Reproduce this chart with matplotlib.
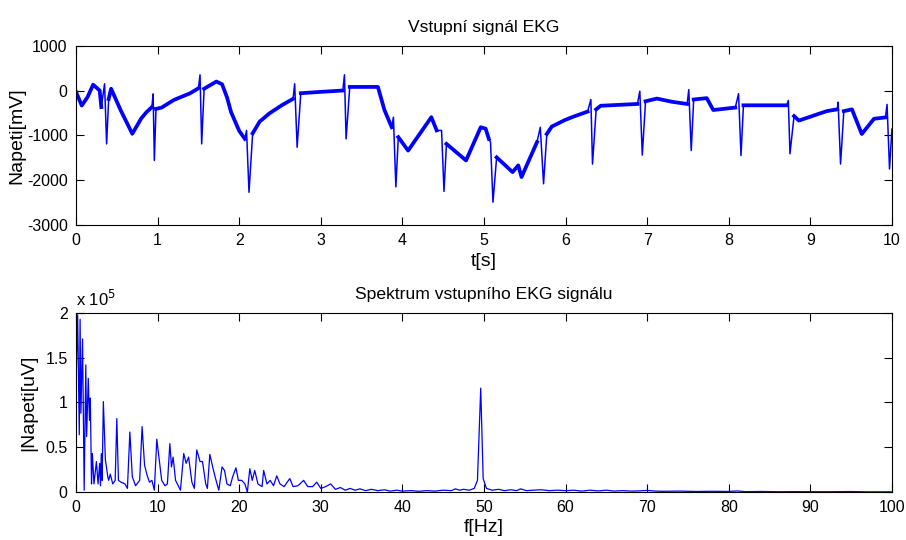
import numpy as np
import matplotlib.pyplot as plt
from matplotlib.ticker import FuncFormatter

plt.rcParams['font.family'] = ['Liberation Sans', 'DejaVu Sans']
plt.rcParams['axes.unicode_minus'] = False

# EKG trace, vertices (t in s, voltage in mV)
ekg_t = [0.00, 0.07, 0.14, 0.21, 0.29, 0.31, 0.35, 0.375, 0.40, 0.43, 0.55, 0.69, 0.80, 0.865, 0.93,
         0.945, 0.96, 0.98, 1.05, 1.20, 1.40, 1.50, 1.52, 1.54, 1.57, 1.72, 1.79, 1.85, 1.90, 2.00,
         2.07, 2.09, 2.12, 2.165, 2.25, 2.37, 2.53, 2.66, 2.68, 2.71, 2.755, 3.00, 3.27, 3.29, 3.31,
         3.355, 3.70, 3.78, 3.87, 3.89, 3.92, 3.95, 4.07, 4.355, 4.42, 4.48, 4.51, 4.54, 4.78, 4.96,
         5.02, 5.06, 5.08, 5.11, 5.155, 5.35, 5.42, 5.46, 5.65, 5.69, 5.73, 5.77, 5.83, 5.99, 6.10,
         6.27, 6.31, 6.33, 6.375, 6.43, 6.88, 6.91, 6.94, 6.98, 7.12, 7.30, 7.49, 7.51, 7.54, 7.57,
         7.73, 7.81, 7.98, 8.08, 8.12, 8.15, 8.18, 8.71, 8.73, 8.75, 8.80, 8.86, 9.20, 9.33, 9.34,
         9.37, 9.41, 9.51, 9.63, 9.78, 9.92, 9.94, 9.97, 10.0]
ekg_mv = [-30, -335, -150, 130, 0, -370, 150, -1190, -190, 40, -450, -965, -620, -480, -370,
          -75, -1560, -410, -380, -210, -60, 50, 350, -1190, 40, 200, 140, -150, -480, -900,
          -1080, -890, -2270, -955, -695, -510, -320, -185, 150, -1265, -60, -30, 0, 350, -1080,
          80, 80, -435, -820, -595, -2150, -1040, -1340, -595, -890, -890, -2250, -1190, -1560, -820,
          -850, -1080, -1150, -2490, -1490, -1820, -1670, -1930, -1150, -820, -2080, -970, -805, -660, -580,
          -470, -200, -1640, -420, -340, -300, -15, -1440, -240, -180, -250, -300, 20, -1340, -200,
          -170, -435, -400, -380, -70, -1450, -330, -330, -220, -1410, -570, -670, -460, -420, -260,
          -1640, -460, -420, -970, -630, -600, -310, -1750, -860]
# times of the downward QRS deflections
qrs_t = [0.375, 0.96, 1.54, 2.12, 2.71, 3.31, 3.92, 4.51, 5.11, 5.73, 6.33, 6.94, 7.54, 8.15,
         8.75, 9.37, 9.97]

# spectrum, vertices (f in Hz, amplitude in x 10^5 uV)
spec_f = [0.0, 0.2, 0.4, 0.5, 0.6, 0.8, 0.9, 1.0, 1.2, 1.3, 1.5, 1.65, 1.75, 1.9, 2.0, 2.2, 2.5, 2.7,
          2.9, 3.0, 3.1, 3.2, 3.35, 3.6, 3.9, 4.0, 4.2, 4.5, 4.8, 5.0, 5.2, 5.5, 6.0, 6.3, 6.6, 6.9,
          7.3, 7.8, 8.1, 8.4, 8.7, 9.0, 9.3, 9.6, 9.9, 10.2, 10.5, 10.9, 11.2, 11.5, 11.7, 11.9, 12.2,
          12.8, 13.2, 13.5, 13.8, 14.2, 14.5, 14.8, 15.2, 15.5, 15.9, 16.1, 16.4, 16.8, 17.1, 17.5,
          17.9, 18.2, 18.5, 18.9, 19.2, 19.6, 19.9, 20.3, 20.7, 21.0, 21.3, 21.6, 21.9, 22.3, 22.8,
          23.0, 23.4, 23.8, 24.2, 24.6, 25.0, 25.5, 26.2, 26.6, 27.2, 27.9, 28.4, 29.0, 29.5, 30.0,
          30.6, 31.2, 31.8, 32.4, 33.0, 33.6, 34.2, 34.8, 35.5, 36.2, 37.0, 37.8, 38.5, 39.3, 40.0,
          41.0, 42.0, 43.0, 44.0, 45.0, 46.0, 46.5, 47.0, 47.5, 48.2, 48.8, 49.2, 49.6, 49.9, 50.3,
          51.0, 51.8, 52.5, 53.3, 54.0, 54.5, 55.2, 56.0, 57.0, 58.0, 59.0, 60.0, 61.0, 62.0, 63.0,
          64.0, 65.0, 66.0, 67.0, 68.0, 69.0, 70.0, 71.0, 72.0, 74.0, 76.0, 78.0, 80.0, 81.0, 82.0,
          84.0, 86.0, 88.0, 90.0, 92.0, 95.0, 97.0, 100.0]
spec_amp = [1.20, 1.98, 0.64, 1.93, 0.88, 1.71, 0.88, 0.02, 1.42, 0.62, 1.27, 0.80, 1.05, 0.09, 0.43, 0.09, 0.34, 0.09,
            0.32, 0.07, 0.43, 0.13, 1.01, 0.36, 0.17, 0.13, 0.20, 0.09, 0.13, 0.82, 0.13, 0.11, 0.09, 0.04, 0.67, 0.17,
            0.07, 0.13, 0.73, 0.30, 0.19, 0.11, 0.13, 0.02, 0.59, 0.36, 0.13, 0.07, 0.09, 0.54, 0.28, 0.39, 0.13,
            0.02, 0.43, 0.32, 0.39, 0.11, 0.04, 0.47, 0.34, 0.34, 0.09, 0.04, 0.42, 0.26, 0.15, 0.02,
            0.28, 0.24, 0.09, 0.07, 0.17, 0.27, 0.13, 0.13, 0.09, 0.00, 0.26, 0.13, 0.24, 0.09, 0.06,
            0.24, 0.09, 0.13, 0.07, 0.18, 0.09, 0.06, 0.15, 0.06, 0.07, 0.13, 0.06, 0.06, 0.11, 0.04,
            0.06, 0.09, 0.03, 0.05, 0.02, 0.04, 0.02, 0.035, 0.015, 0.03, 0.015, 0.025, 0.01, 0.02, 0.01,
            0.015, 0.008, 0.015, 0.01, 0.02, 0.015, 0.035, 0.02, 0.03, 0.02, 0.04, 0.13, 1.16, 0.15, 0.04,
            0.02, 0.03, 0.015, 0.025, 0.015, 0.035, 0.015, 0.02, 0.025, 0.015, 0.02, 0.015, 0.02, 0.01, 0.02,
            0.012, 0.02, 0.01, 0.015, 0.01, 0.012, 0.018, 0.01, 0.008, 0.01, 0.006, 0.008, 0.006, 0.012, 0.004,
            0.006, 0.003, 0.004, 0.003, 0.003, 0.005, 0.002, 0.002]

fig = plt.figure(figsize=(9.06, 5.40), dpi=100)
ax1 = fig.add_axes([0.0839, 0.5833, 0.9006, 0.3321])
ax2 = fig.add_axes([0.0839, 0.0889, 0.9006, 0.3315])

# thin trace for the QRS spikes, thick noisy-looking band for the rest
ekg_base = np.array(ekg_mv, dtype=float)
for q in qrs_t:
    i = ekg_t.index(q)
    ekg_base[i - 1:i + 1] = np.nan
ax1.plot(ekg_t, ekg_mv, color='#0000ff', lw=1.1)
ax1.plot(ekg_t, ekg_base, color='#0000ff', lw=2.7, solid_joinstyle='round')
ax1.set_xlim(0, 10)
ax1.set_ylim(-3000, 1000)
ax1.set_xticks(np.arange(0, 11, 1))
ax1.set_yticks(np.arange(-3000, 1001, 1000))
ax1.set_title('Vstupní signál EKG', fontsize=12.6, pad=10)
ax1.set_xlabel('t[s]', fontsize=14, labelpad=3)
ax1.set_ylabel('Napeti[mV]', fontsize=14, labelpad=1)

ax2.plot(spec_f, np.array(spec_amp) * 1e5, color='#0000ff', lw=0.9)
ax2.set_xlim(0, 100)
ax2.set_ylim(0, 2e5)
ax2.set_xticks(np.arange(0, 101, 10))
ax2.set_yticks(np.arange(0, 2.01e5, 0.5e5))
ax2.yaxis.set_major_formatter(FuncFormatter(lambda v, p: f'{v / 1e5:g}'))
ax2.text(0.0, 1.025, 'x 10$^5$', transform=ax2.transAxes, fontsize=12, va='bottom')
ax2.set_title('Spektrum vstupního EKG signálu', fontsize=12.6, pad=10)
ax2.set_xlabel('f[Hz]', fontsize=14, labelpad=3)
ax2.set_ylabel('|Napeti[uV]', fontsize=14, labelpad=6)

for ax in (ax1, ax2):
    ax.tick_params(direction='in', top=True, right=True, length=6, width=0.8, labelsize=11.5, pad=6)
    for s in ax.spines.values():
        s.set_linewidth(0.8)

fig.savefig('out.png', dpi=100)
